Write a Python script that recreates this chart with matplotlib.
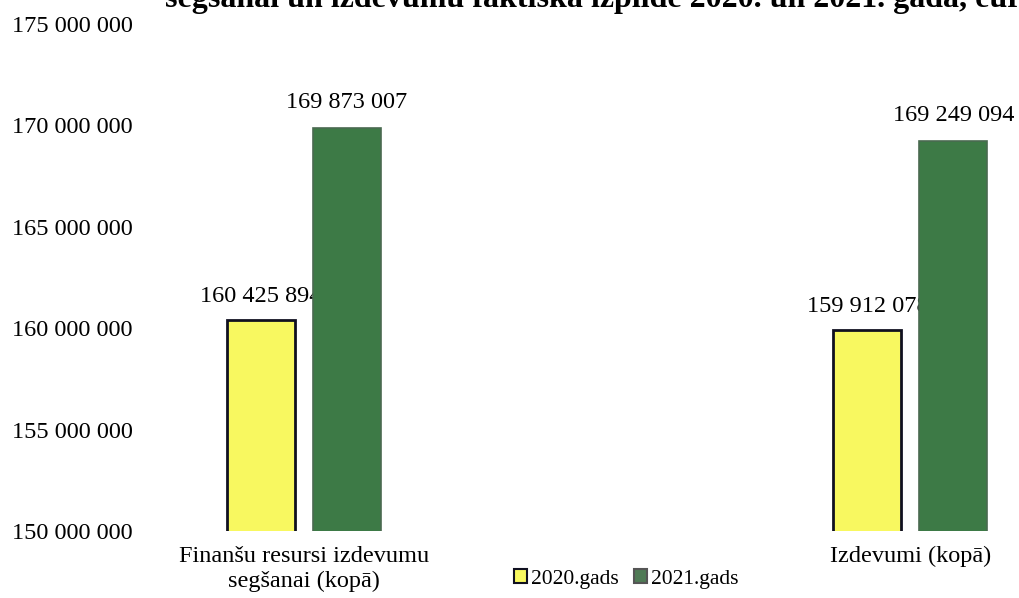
import matplotlib
matplotlib.use("Agg")
import matplotlib.pyplot as plt
from matplotlib.patches import Patch
from matplotlib.ticker import FuncFormatter

categories = ["Finanšu resursi izdevumu\nsegšanai (kopā)", "Izdevumi (kopā)"]
series_names = ["2020.gads", "2021.gads"]
values_2020 = [160425894, 159912078]
values_2021 = [169873007, 169249094]
title = "segšanai un izdevumu faktiskā izpilde 2020. un 2021. gadā, euro"

plt.rcParams['font.family'] = ['Liberation Serif', 'DejaVu Serif']

fig = plt.figure(figsize=(10.2, 5.98), dpi=100)
ax = fig.add_axes([152/1020, 67/598, 910/1020, 507/598])

x = [0, 1]
w = 0.112
off = 0.071
c_yellow = "#F8F860"
c_green = "#3D7A46"
fs = 17.5

b1 = ax.bar([i - off for i in x], values_2020, width=w, color=c_yellow,
            edgecolor="#101020", linewidth=2, zorder=1)
b2 = ax.bar([i + off for i in x], values_2021, width=w, color=c_green,
            edgecolor="#4A6A50", linewidth=1.2, zorder=2)

def fmt(v):
    return f"{v:,.0f}".replace(",", " ")

for rect, v in zip(b1, values_2020):
    ax.text(rect.get_x() + rect.get_width()/2, v + 1.15e6, fmt(v),
            ha="center", va="center", fontsize=fs, zorder=1.5)
for rect, v in zip(b2, values_2021):
    ax.text(rect.get_x() + rect.get_width()/2, v + 1.25e6, fmt(v),
            ha="center", va="center", fontsize=fs, zorder=3)

ax.set_ylim(150000000, 175000000)
ax.set_yticks(range(150000000, 175000001, 5000000))
ax.yaxis.set_major_formatter(FuncFormatter(lambda v, p: fmt(v)))
ax.set_xlim(-0.25, 1.25)
ax.set_xticks(x)
ax.set_xticklabels(categories, fontsize=fs, linespacing=1.2)
ax.tick_params(axis="both", length=0, labelsize=fs)
ax.tick_params(axis="x", pad=11)
ax.tick_params(axis="y", pad=14)
for s in ax.spines.values():
    s.set_visible(False)

handles = [Patch(facecolor=c_yellow, edgecolor="#101020", linewidth=1.5),
           Patch(facecolor="#4F7A55", edgecolor="#555555", linewidth=1.5)]
fig.legend(handles, series_names, loc="center", bbox_to_anchor=(626/1020, 1 - 579/598),
           ncol=2, frameon=False, fontsize=15.5, handlelength=0.6, handleheight=0.6,
           handletextpad=0.2, columnspacing=0.7)

fig.text(165/1020, 1 - 7/598, title, ha="left", va="baseline",
         fontsize=23, fontweight="bold")

fig.savefig("out.png", dpi=100)
